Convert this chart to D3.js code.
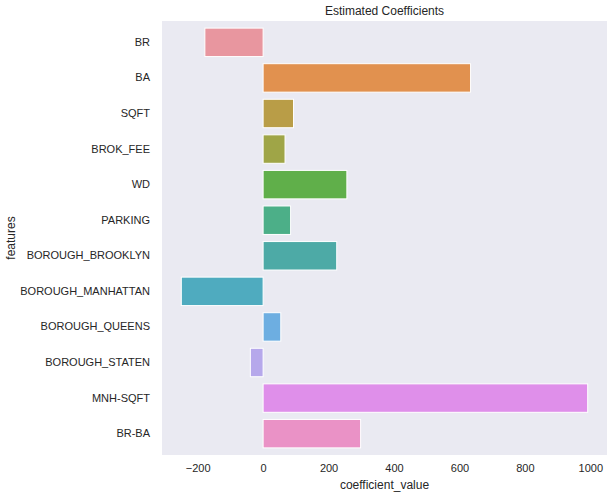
<!DOCTYPE html>
<html>
<head>
<meta charset="utf-8">
<script src="https://cdn.jsdelivr.net/npm/d3@7"></script>
<style>
  body { margin: 0; background: #fff; }
  svg { display: block; font-family: "Liberation Sans", Arial, sans-serif; }
</style>
</head>
<body>
<div id="chart"></div>
<script>
// data
const features = ['BR', 'BA', 'SQFT', 'BROK_FEE', 'WD', 'PARKING', 'BOROUGH_BROOKLYN',
  'BOROUGH_MANHATTAN', 'BOROUGH_QUEENS', 'BOROUGH_STATEN', 'MNH-SQFT', 'BR-BA'];
const coefficients = [-178, 634, 93, 67, 256, 84, 225, -250, 54, -39, 992, 298];
const barColors = ['#e8969f', '#e1914f', '#b99d47', '#9fa547', '#60af4a', '#4caf88',
  '#4daaa6', '#4fabbf', '#6daee1', '#b6a8eb', '#df8fea', '#ea92c6'];
const xTicks = [-200, 0, 200, 400, 600, 800, 1000];

const width = 614, height = 496;
const margin = { top: 21, right: 7, bottom: 41, left: 162 };
const innerW = width - margin.left - margin.right;
const innerH = height - margin.top - margin.bottom;

const svg = d3.select('#chart').append('svg')
  .attr('width', width)
  .attr('height', height);

const g = svg.append('g')
  .attr('transform', `translate(${margin.left},${margin.top})`);

const x = d3.scaleLinear().domain([-309, 1051]).range([0, innerW]);
const y = d3.scaleBand().domain(features).range([0, innerH]).padding(0.2);

// axes background
g.append('rect')
  .attr('width', innerW)
  .attr('height', innerH)
  .attr('fill', '#eaeaf2');

g.selectAll('rect.bar')
  .data(features)
  .join('rect')
  .attr('class', 'bar')
  .attr('x', (d, i) => x(Math.min(0, coefficients[i])))
  .attr('y', d => y(d))
  .attr('width', (d, i) => Math.abs(x(coefficients[i]) - x(0)))
  .attr('height', y.bandwidth())
  .attr('fill', (d, i) => barColors[i])
  .attr('stroke', '#fff')
  .attr('stroke-width', 1);

const xAxis = g.append('g')
  .attr('transform', `translate(0,${innerH})`)
  .call(d3.axisBottom(x).tickValues(xTicks).tickSize(0).tickPadding(9)
    .tickFormat(d => d < 0 ? '\u2212' + Math.abs(d) : d));
xAxis.select('.domain').remove();
xAxis.selectAll('text').attr('fill', '#262626').attr('font-size', '11px');

const yAxis = g.append('g')
  .call(d3.axisLeft(y).tickSize(0).tickPadding(12));
yAxis.select('.domain').remove();
yAxis.selectAll('text').attr('fill', '#262626').attr('font-size', '11px');

svg.append('text')
  .attr('x', margin.left + innerW / 2)
  .attr('y', 15)
  .attr('text-anchor', 'middle')
  .attr('fill', '#262626')
  .attr('font-size', '12px')
  .text('Estimated Coefficients');

svg.append('text')
  .attr('x', margin.left + innerW / 2)
  .attr('y', 489)
  .attr('text-anchor', 'middle')
  .attr('fill', '#262626')
  .attr('font-size', '12px')
  .text('coefficient_value');

svg.append('text')
  .attr('transform', `translate(15,${margin.top + innerH / 2}) rotate(-90)`)
  .attr('text-anchor', 'middle')
  .attr('fill', '#262626')
  .attr('font-size', '12px')
  .text('features');
</script>
</body>
</html>
